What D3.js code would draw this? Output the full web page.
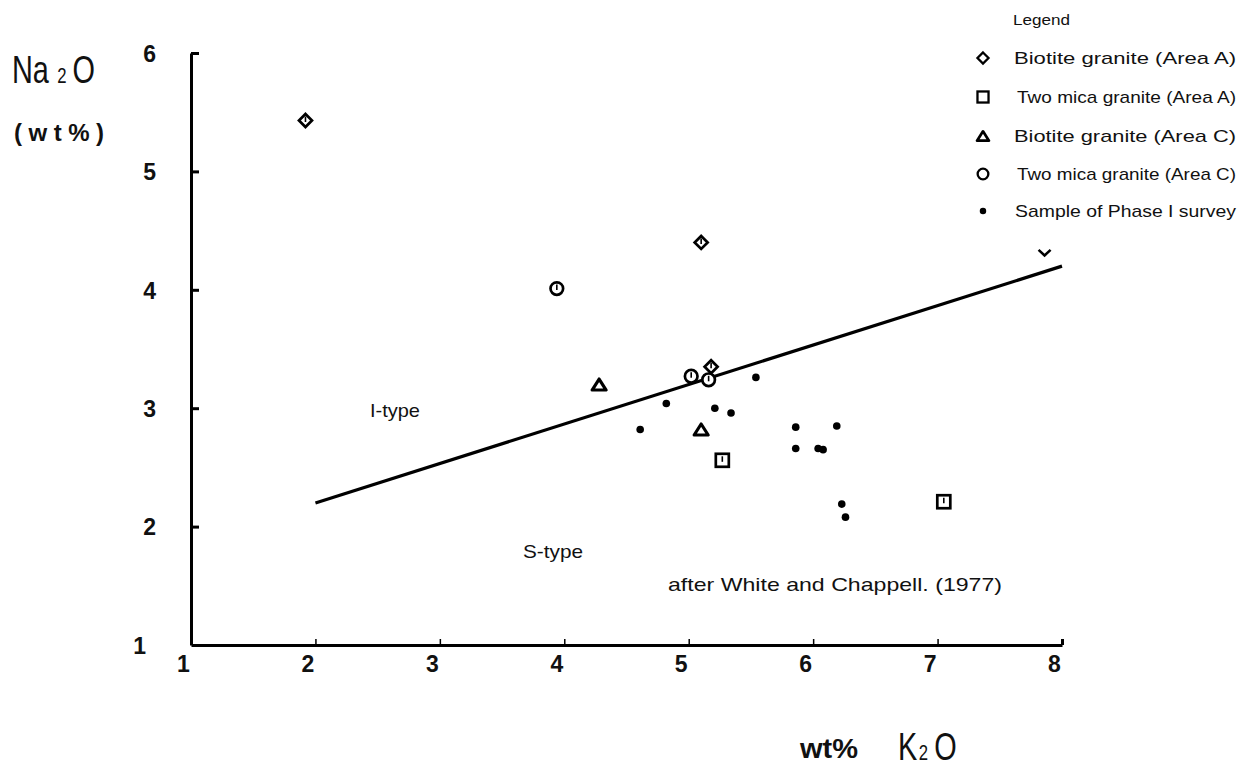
<!DOCTYPE html>
<html>
<head>
<meta charset="utf-8">
<script src="https://cdn.jsdelivr.net/npm/d3@7"></script>
<style>
  html, body { margin: 0; padding: 0; background: #fff; }
  svg { display: block; }
  text { fill: #111; }
</style>
</head>
<body>
<svg id="chart" width="1250" height="771"></svg>
<script>
// ---------- data ----------
const xTicks = [1, 2, 3, 4, 5, 6, 7, 8];
const yTicks = [1, 2, 3, 4, 5, 6];

// K2O (wt%), Na2O (wt%)
const biotiteA  = [[1.92, 5.43], [5.10, 4.40], [5.18, 3.35]];
const biotiteAEdge = [[7.86, 4.32]];            // partly drawn diamond at right edge
const twoMicaA  = [[5.27, 2.56], [7.05, 2.21]];
const biotiteC  = [[4.28, 3.20], [5.10, 2.82]];
const twoMicaC  = [[3.94, 4.01], [5.02, 3.27], [5.16, 3.24]];
const phaseI    = [[4.82, 3.04], [4.61, 2.82], [5.21, 3.00], [5.34, 2.96], [5.54, 3.26],
                   [5.86, 2.84], [6.19, 2.85], [5.86, 2.66], [6.04, 2.66], [6.08, 2.65],
                   [6.23, 2.19], [6.26, 2.08]];
const dividerK2O  = [2, 8];
const dividerNa2O = [2.2, 4.2];

const legendLabels = [
  "Biotite granite (Area  A)",
  "Two mica granite (Area  A)",
  "Biotite granite (Area  C)",
  "Two mica granite (Area  C)",
  "Sample of Phase I survey"
];
const legendShapes = ["diamond", "square", "triangle", "circle", "dot"];

// ---------- setup ----------
const svg = d3.select("#chart");
const FONT = "'Liberation Sans', Arial, sans-serif";
const x = d3.scaleLinear().domain([1, 8]).range([191, 1062]);
const y = d3.scaleLinear().domain([1, 6]).range([645, 53]);

// ---------- axes ----------
const yAxis = d3.axisLeft(y).tickValues(yTicks).tickFormat(d3.format("d"))
  .tickSizeInner(-8).tickSizeOuter(0).tickPadding(35);
const gy = svg.append("g").attr("transform", `translate(${x.range()[0]},0)`).call(yAxis);
gy.select(".domain").attr("stroke", "#000").attr("stroke-width", 3);
gy.selectAll(".tick line").attr("stroke", "#000").attr("stroke-width", 3)
  .attr("display", d => d === 1 ? "none" : null);
gy.selectAll(".tick text").attr("font-family", FONT).attr("font-weight", "bold")
  .attr("font-size", 23).attr("fill", "#111").attr("dy", "0.36em")
  .attr("dx", d => d === 1 ? -10 : 0);

const xAxis = d3.axisBottom(x).tickValues(xTicks).tickFormat(d3.format("d"))
  .tickSizeInner(-6).tickSizeOuter(0).tickPadding(11);
const gx = svg.append("g").attr("transform", `translate(0,${y.range()[0]})`).call(xAxis);
gx.select(".domain").attr("stroke", "#000").attr("stroke-width", 3);
gx.selectAll(".tick line").attr("stroke", "#000").attr("stroke-width", d => d === 8 ? 3 : 1.5)
  .attr("display", d => d === 1 ? "none" : null);
gx.selectAll(".tick text").attr("font-family", FONT).attr("font-weight", "bold")
  .attr("font-size", 23).attr("fill", "#111").attr("dx", -8);

// ---------- divider line ----------
const lineData = dividerK2O.map((k, i) => [k, dividerNa2O[i]]);
svg.append("path")
  .datum(lineData)
  .attr("d", d3.line().x(d => x(d[0])).y(d => y(d[1])))
  .attr("fill", "none").attr("stroke", "#000").attr("stroke-width", 3.2);

// ---------- symbols ----------
function drawShape(g, shape, s) {
  if (shape === "diamond") {
    const r = 6.5 * s;
    g.append("path").attr("d", `M0,${-r}L${r},0L0,${r}L${-r},0Z`)
      .attr("fill", "#fff").attr("stroke", "#000").attr("stroke-width", 2.7 * s);
  } else if (shape === "square") {
    const h = 6.5 * s;
    g.append("rect").attr("x", -h).attr("y", -h).attr("width", 2 * h).attr("height", 2 * h)
      .attr("fill", "#fff").attr("stroke", "#000").attr("stroke-width", 2.7 * s);
  } else if (shape === "triangle") {
    const w = 7 * s, h = 5.5 * s;
    g.append("path").attr("d", `M0,${-h}L${w},${h}L${-w},${h}Z`)
      .attr("fill", "#fff").attr("stroke", "#000").attr("stroke-width", 3.2 * s)
      .attr("stroke-linejoin", "round");
  } else if (shape === "circle") {
    g.append("circle").attr("r", 6.3 * s)
      .attr("fill", "#fff").attr("stroke", "#000").attr("stroke-width", 2.7 * s);
  } else if (shape === "dot") {
    g.append("circle").attr("r", 3.8 * s).attr("fill", "#000");
  }
}
function innerTick(g) {
  g.append("line").attr("x1", 0).attr("x2", 0).attr("y1", -4).attr("y2", 1.5)
    .attr("stroke", "#000").attr("stroke-width", 1.6);
}

function plotSeries(data, shape, tick) {
  const gs = svg.append("g").selectAll("g").data(data).join("g")
    .attr("transform", d => `translate(${x(d[0])},${y(d[1])})`);
  gs.each(function () {
    const g = d3.select(this);
    drawShape(g, shape, 1);
    if (tick) innerTick(g);
  });
}
plotSeries(biotiteA, "diamond", true);
plotSeries(twoMicaA, "square", true);
plotSeries(biotiteC, "triangle", false);
plotSeries(twoMicaC, "circle", true);
plotSeries(phaseI, "dot", false);

// partly drawn diamond (lower half only)
svg.append("g").selectAll("path").data(biotiteAEdge).join("path")
  .attr("transform", d => `translate(${x(d[0])},${y(d[1])})`)
  .attr("d", "M-6,-2L0,3.5L6,-2")
  .attr("fill", "none").attr("stroke", "#000").attr("stroke-width", 2.6);

// ---------- text helpers ----------
function txt(str, xx, yy, size, opts = {}) {
  const t = svg.append("text").attr("x", xx).attr("y", yy)
    .attr("font-family", opts.family || FONT)
    .attr("font-size", size)
    .attr("font-weight", opts.weight || "normal")
    .text(str);
  if (opts.len) t.attr("textLength", opts.len).attr("lengthAdjust", opts.adjust || "spacingAndGlyphs");
  if (opts.anchor) t.attr("text-anchor", opts.anchor);
  return t;
}
// chemical formula with a small digit, horizontally condensed
function formula(parts, xx, yy, sx) {
  const t = svg.append("text")
    .attr("transform", `translate(${xx},${yy}) scale(${sx},1)`)
    .attr("font-family", FONT);
  parts.forEach(p => {
    t.append("tspan").attr("font-size", p[1]).attr("dx", p[2] || 0).text(p[0]);
  });
  return t;
}

// ---------- axis titles ----------
formula([["Na", 38], ["2", 22, 11], ["O", 38, 8]], 12, 83, 0.76);
txt("(wt%)", 14, 141, 24, {weight: "bold", len: 90, adjust: "spacing"});

txt("wt%", 800, 758, 27, {weight: "bold", len: 58});
formula([["K", 38], ["2", 22, 2], ["O", 38, 8]], 898, 760, 0.76);

// ---------- annotations ----------
txt("I-type", 370, 417, 19, {len: 50});
txt("S-type", 523, 558, 19, {len: 60});
txt("after   White  and  Chappell. (1977)", 668, 591, 19, {len: 334});

// ---------- legend ----------
txt("Legend", 1013, 25, 15, {len: 57});
const legendY = [58, 97, 136, 174, 211];
const textX = [1014, 1017, 1014, 1017, 1015];
legendLabels.forEach((lab, i) => {
  const g = svg.append("g").attr("transform", `translate(983,${legendY[i]})`);
  drawShape(g, legendShapes[i], 0.85);
  txt(lab, textX[i], legendY[i] + 6, 17, {len: 1236 - textX[i]});
});
</script>
</body>
</html>
